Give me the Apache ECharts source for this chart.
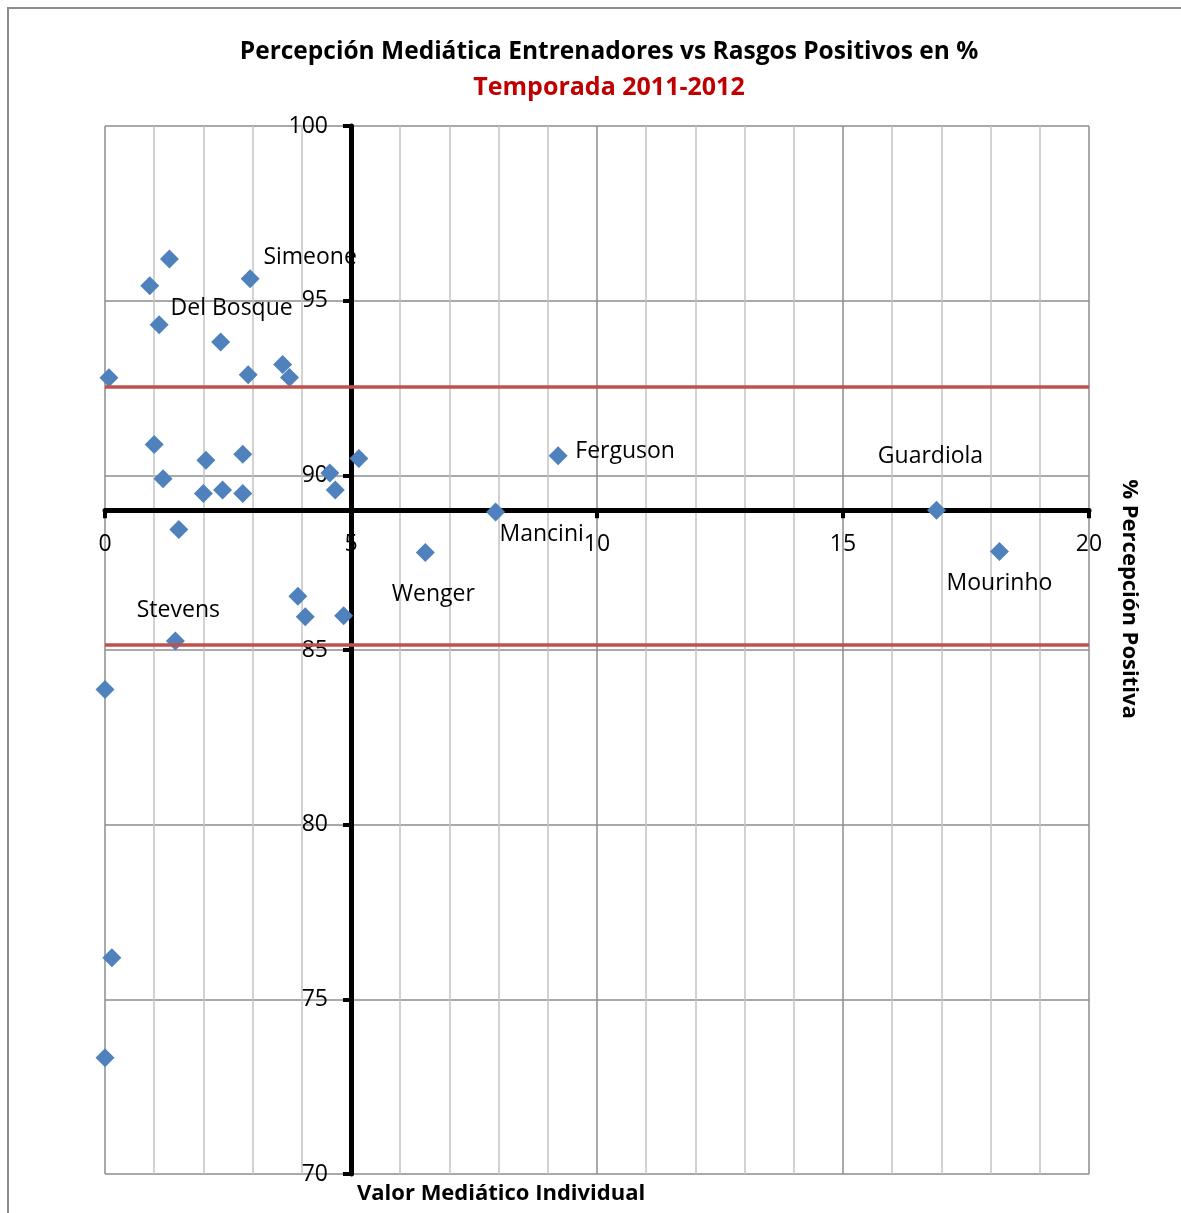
<!DOCTYPE html>
<html>
<head>
<meta charset="utf-8">
<script src="https://cdn.jsdelivr.net/npm/echarts@6/dist/echarts.min.js"></script>
<style>
html,body{margin:0;padding:0;background:#fff;}
#chart{width:1181px;height:1213px;}
</style>
</head>
<body>
<div id="chart"></div>
<script>
// ---- data ----
const titleText = 'Percepción Mediática Entrenadores vs Rasgos Positivos en %';
const subtitleText = 'Temporada 2011-2012';
const xAxisTitle = 'Valor Mediático Individual';
const yAxisTitle = '% Percepción Positiva';

const valorMediatico = [0.08, 0.91, 1.31, 1.10, 2.35, 2.95, 2.91, 3.61, 3.75, 1.00, 1.18, 2.05, 2.80, 2.00, 2.39, 2.80, 1.50, 4.57, 4.68, 5.16, 3.92, 4.07, 4.85, 1.43, 0.00, 0.14, 0.00, 6.51, 7.94, 9.21, 16.90, 18.18];
const percepcionPositiva = [92.79, 95.43, 96.19, 94.31, 93.82, 95.63, 92.88, 93.17, 92.80, 90.88, 89.90, 90.43, 90.60, 89.48, 89.58, 89.48, 88.45, 90.07, 89.58, 90.48, 86.54, 85.95, 85.98, 85.26, 83.87, 76.19, 73.33, 87.79, 88.95, 90.56, 89.00, 87.82];
const entrenadores = ['', '', '', '', 'Del Bosque', 'Simeone', '', '', '', '', '', '', '', '', '', '', '', '', '', '', '', '', '', 'Stevens', '', '', '', 'Wenger', 'Mancini', 'Ferguson', 'Guardiola', 'Mourinho'];
const referenceLines = [92.53, 85.14];
const xTicks = [0, 5, 10, 15, 20];
const yTicks = [70, 75, 80, 85, 90, 95, 100];
const axisCross = { x: 5, y: 89 };

// ---- styling (label placement relative to point) ----
const labelOffsets = {
  'Simeone': [60, -21],
  'Del Bosque': [11, -33],
  'Stevens': [3, -30],
  'Wenger': [8, 42],
  'Mancini': [46, 22],
  'Ferguson': [67, -4],
  'Guardiola': [-6, -54],
  'Mourinho': [0, 32]
};

const W = 1181, H = 1213;
const G = { left: 105, right: 92, top: 126, bottom: 39 };
const gw = W - G.left - G.right, gh = H - G.top - G.bottom;
const xMin = xTicks[0], xMax = xTicks[xTicks.length - 1];
const yMin = yTicks[0], yMax = yTicks[yTicks.length - 1];
const yAxisOffset = -(axisCross.x - xMin) / (xMax - xMin) * gw;
const xAxisOffset = -(axisCross.y - yMin) / (yMax - yMin) * gh;

const FONT = '"Open Sans", "DejaVu Sans", sans-serif';

const data = valorMediatico.map((x, i) => {
  const name = entrenadores[i];
  const item = { value: [x, percepcionPositiva[i]], name: name };
  if (name) {
    item.label = { show: true, position: 'inside', align: 'center', verticalAlign: 'middle',
      color: '#000', textBorderWidth: 0, fontFamily: FONT, fontSize: 23,
      offset: labelOffsets[name] || [0, 0] };
  }
  return item;
});

const chart = echarts.init(document.getElementById('chart'), null, { renderer: 'canvas' });
chart.setOption({
  animation: false,
  backgroundColor: '#fff',
  title: [
    { text: titleText, left: 609, top: 37, textAlign: 'center', padding: 0,
      textStyle: { fontFamily: FONT, fontWeight: 'bold', fontSize: 24.5, lineHeight: 30, color: '#000' } },
    { text: subtitleText, left: 609, top: 73, textAlign: 'center', padding: 0,
      textStyle: { fontFamily: FONT, fontWeight: 'bold', fontSize: 25, lineHeight: 30, color: '#C00000' } }
  ],
  grid: { left: G.left, right: G.right, top: G.top, bottom: G.bottom, containLabel: false },
  xAxis: {
    type: 'value', min: xMin, max: xMax, interval: 5,
    position: 'bottom', offset: xAxisOffset,
    axisLine: { show: true, onZero: false, lineStyle: { color: '#000', width: 5 } },
    axisTick: { show: true, length: 8, lineStyle: { color: '#000', width: 4 } },
    axisLabel: { show: true, margin: 23, color: '#000', fontFamily: FONT, fontSize: 23 },
    splitLine: { show: true, lineStyle: { color: '#8c8c8c', width: 1.5 } },
    minorTick: { show: false, splitNumber: 5 },
    minorSplitLine: { show: true, lineStyle: { color: '#c4c4c4', width: 1.5 } }
  },
  yAxis: {
    type: 'value', min: yMin, max: yMax, interval: 5,
    position: 'left', offset: yAxisOffset,
    axisLine: { show: true, onZero: false, lineStyle: { color: '#000', width: 5 } },
    axisTick: { show: true, length: 8, lineStyle: { color: '#000', width: 4 } },
    axisLabel: { show: true, margin: 23, color: '#000', fontFamily: FONT, fontSize: 23 },
    splitLine: { show: true, lineStyle: { color: '#8c8c8c', width: 1.5 } }
  },
  series: [{
    type: 'scatter',
    symbol: 'diamond',
    symbolSize: 19,
    clip: false,
    itemStyle: { color: '#4F81BD', opacity: 1 },
    label: { show: false, color: '#000', fontFamily: FONT, fontSize: 23, formatter: p => p.name },
    data: data,
    markLine: {
      silent: true, symbol: 'none', z: 5,
      label: { show: false },
      lineStyle: { color: '#C0504D', width: 3.5, type: 'solid', opacity: 1 },
      data: referenceLines.map(v => ({ yAxis: v }))
    }
  }],
  graphic: [
    { type: 'rect', shape: { x: 8, y: 8, width: 1300, height: 1300 }, style: { fill: 'none', stroke: '#8c8c8c', lineWidth: 2 }, silent: true, z: -10 },
    { type: 'text', x: 357, y: 1194, style: { text: xAxisTitle, font: 'bold 22px ' + FONT, fill: '#000', align: 'left', verticalAlign: 'middle' } },
    { type: 'text', x: 1129, y: 599, rotation: -Math.PI / 2, style: { text: yAxisTitle, font: 'bold 22px ' + FONT, fill: '#000', align: 'center', verticalAlign: 'middle' } }
  ]
});
</script>
</body>
</html>
